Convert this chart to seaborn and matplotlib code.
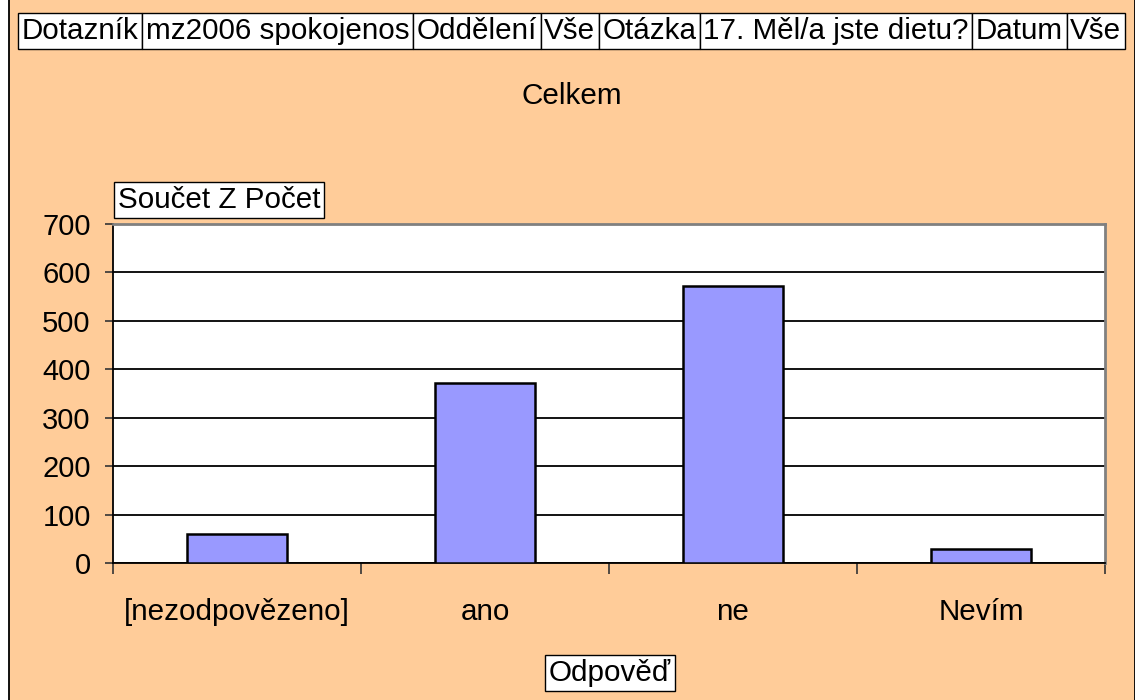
import matplotlib
matplotlib.use("Agg")
import matplotlib.pyplot as plt
import seaborn as sns
import numpy as np
from matplotlib.patches import Rectangle

# data
odpovedi = ['[nezodpovězeno]', 'ano', 'ne', 'Nevím']
pocty = [59, 371, 572, 29]
y_ticks = [0, 100, 200, 300, 400, 500, 600, 700]
header = ['Dotazník', 'mz2006 spokojenos', 'Oddělení', 'Vše', 'Otázka',
          '17. Měl/a jste dietu?', 'Datum', 'Vše']

sns.set_theme(style="white", rc={'text.color': 'black', 'xtick.color': 'black',
                                 'ytick.color': 'black', 'axes.labelcolor': 'black'})
plt.rcParams['font.family'] = ['Liberation Sans', 'DejaVu Sans']

FS = 21.3
W, H = 1135, 700
fig = plt.figure(figsize=(W / 100, H / 100), dpi=100)
fig.patch.set_facecolor('white')

# peach background with side borders
bg = Rectangle((9 / W, -0.01), (W - 9.5) / W, 1.02, transform=fig.transFigure,
               facecolor='#FFCC99', edgecolor='black', linewidth=1.3, zorder=-10)
fig.patches.append(bg)

ax = fig.add_axes([113 / W, 1 - 563 / H, (1105 - 113) / W, (563 - 224) / H])
ax.set_facecolor('white')

sns.barplot(x=odpovedi, y=pocty, color='#9999FF', edgecolor='black',
            linewidth=1.8, width=0.4, saturation=1, ax=ax, zorder=3)

ax.set_ylim(0, 700)
ax.set_xlim(-0.5, len(odpovedi) - 0.5)
ax.set_yticks(y_ticks)
ax.yaxis.grid(True, color='black', linewidth=1.3)
ax.set_axisbelow(True)

ax.tick_params(axis='y', which='major', direction='out', length=6, width=1.2,
               color='#333333', pad=10, labelsize=21, left=True)
ax.set_xticks(np.arange(len(odpovedi)))
ax.set_xticklabels(odpovedi)
ax.tick_params(axis='x', which='major', length=0, pad=25, labelsize=FS)
ax.set_xticks(np.arange(len(odpovedi) + 1) - 0.5, minor=True)
ax.tick_params(axis='x', which='minor', direction='out', length=8, width=1.2,
               color='#333333', bottom=True)
ax.set_xlabel('')
ax.set_ylabel('')

for side in ['top', 'right']:
    ax.spines[side].set_color('#808080')
    ax.spines[side].set_linewidth(2)
for side in ['left', 'bottom']:
    ax.spines[side].set_color('black')
    ax.spines[side].set_linewidth(1.3)

box = dict(boxstyle='square,pad=0.12', facecolor='white', edgecolor='black', linewidth=1)

fig.text(572 / W, 1 - 96 / H, 'Celkem', ha='center', va='center', fontsize=FS)
fig.text(118 / W, 1 - 200 / H, 'Součet Z Počet', ha='left', va='center',
         fontsize=FS, bbox=box)
fig.text(610 / W, 1 - 673 / H, 'Odpověď', ha='center', va='center',
         fontsize=FS, bbox=box)

# header cells placed one after another
fig.canvas.draw()
renderer = fig.canvas.get_renderer()
x = 22
for s in header:
    t = fig.text(x / W, 1 - 31 / H, s, ha='left', va='center', fontsize=FS, bbox=box)
    fig.canvas.draw()
    ext = t.get_bbox_patch().get_window_extent(renderer)
    pad = ext.x1 - t.get_window_extent(renderer).x1
    x = ext.x1 + pad

fig.savefig('out.png', dpi=100, facecolor=fig.get_facecolor())
